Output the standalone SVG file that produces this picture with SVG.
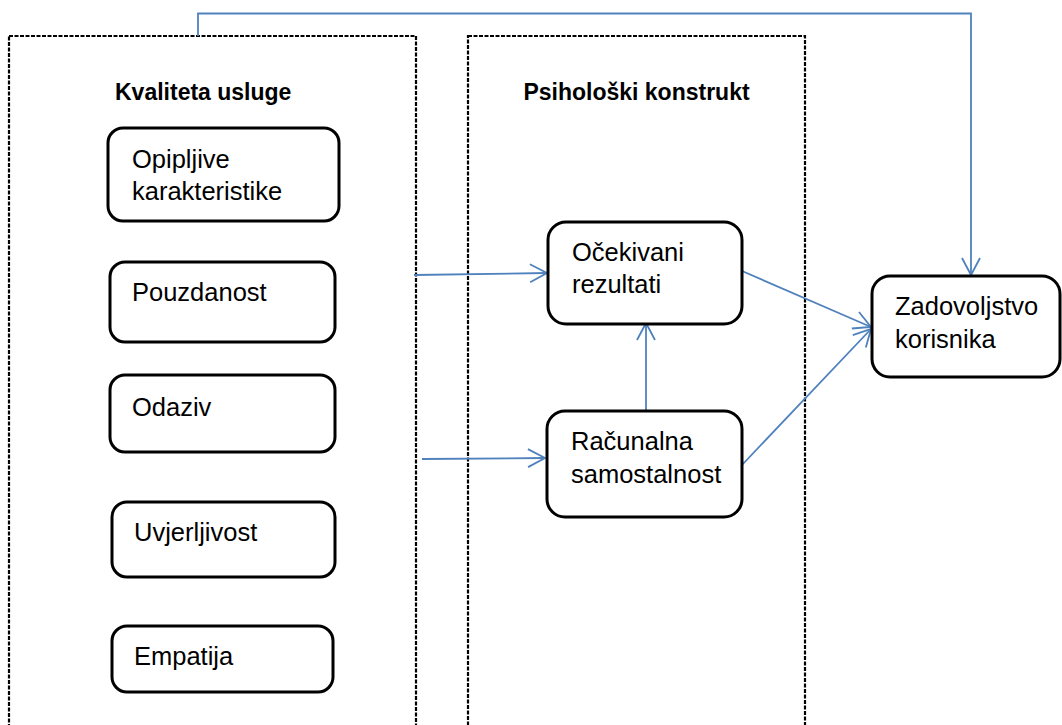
<svg xmlns="http://www.w3.org/2000/svg" width="1062" height="725" viewBox="0 0 1062 725">
<style>
  .container { fill: none; stroke: #000; stroke-width: 2.2; stroke-dasharray: 4 1.5; }
  .node rect { fill: #fff; stroke: #000; stroke-width: 3; }
  .label { font-family: "Liberation Sans", Arial, sans-serif; font-size: 25.5px; fill: #000; }
  .title { font-family: "Liberation Sans", Arial, sans-serif; font-size: 23px; font-weight: bold; fill: #000; }
  .conn { fill: none; stroke: #4F81BD; stroke-width: 1.8; }
</style>
<defs>
  <marker id="arrow" markerUnits="userSpaceOnUse" markerWidth="20" markerHeight="22" viewBox="0 0 20 22" refX="18" refY="11" orient="auto">
    <path d="M1,2 L18,11 L1,20" fill="none" stroke="#4F81BD" stroke-width="1.8"/>
  </marker>
</defs>
<rect width="1062" height="725" fill="#fff"/>

<g id="container-kvaliteta">
  <rect class="container" x="9" y="36" width="407" height="720"/>
  <text class="title" x="115" y="100">Kvaliteta usluge</text>
</g>
<g id="container-psiholoski">
  <rect class="container" x="468" y="36" width="337" height="720"/>
  <text class="title" x="636.5" y="100" text-anchor="middle">Psihološki konstrukt</text>
</g>

<g id="connectors">
  <polyline class="conn" points="198,36 198,13.5 971,13.5 971,275" marker-end="url(#arrow)"/>
  <line class="conn" x1="414" y1="275" x2="547" y2="273" marker-end="url(#arrow)"/>
  <line class="conn" x1="422" y1="459" x2="545" y2="458" marker-end="url(#arrow)"/>
  <line class="conn" x1="646" y1="410" x2="646" y2="323" marker-end="url(#arrow)"/>
  <line class="conn" x1="742" y1="271" x2="871" y2="327" marker-end="url(#arrow)"/>
  <line class="conn" x1="742" y1="465" x2="871" y2="329" marker-end="url(#arrow)"/>
</g>

<g id="node-opipljive" class="node">
  <rect x="108" y="128" width="231" height="93" rx="15"/>
  <text class="label" x="132" y="168">Opipljive</text>
  <text class="label" x="132" y="200">karakteristike</text>
</g>
<g id="node-pouzdanost" class="node">
  <rect x="110" y="262" width="225" height="80" rx="15"/>
  <text class="label" x="132" y="301">Pouzdanost</text>
</g>
<g id="node-odaziv" class="node">
  <rect x="110" y="375" width="225" height="77" rx="15"/>
  <text class="label" x="132" y="416">Odaziv</text>
</g>
<g id="node-uvjerljivost" class="node">
  <rect x="112" y="502" width="223" height="75" rx="15"/>
  <text class="label" x="134" y="541">Uvjerljivost</text>
</g>
<g id="node-empatija" class="node">
  <rect x="112" y="626" width="221" height="66" rx="15"/>
  <text class="label" x="134" y="665">Empatija</text>
</g>
<g id="node-ocekivani" class="node">
  <rect x="548" y="222" width="194" height="102" rx="18"/>
  <text class="label" x="572" y="261">Očekivani</text>
  <text class="label" x="572" y="293">rezultati</text>
</g>
<g id="node-racunalna" class="node">
  <rect x="547" y="411" width="195" height="106" rx="18"/>
  <text class="label" x="571" y="450">Računalna</text>
  <text class="label" x="571" y="483">samostalnost</text>
</g>
<g id="node-zadovoljstvo" class="node">
  <rect x="872" y="276" width="188" height="101" rx="18"/>
  <text class="label" x="895" y="315">Zadovoljstvo</text>
  <text class="label" x="895" y="348">korisnika</text>
</g>
</svg>
